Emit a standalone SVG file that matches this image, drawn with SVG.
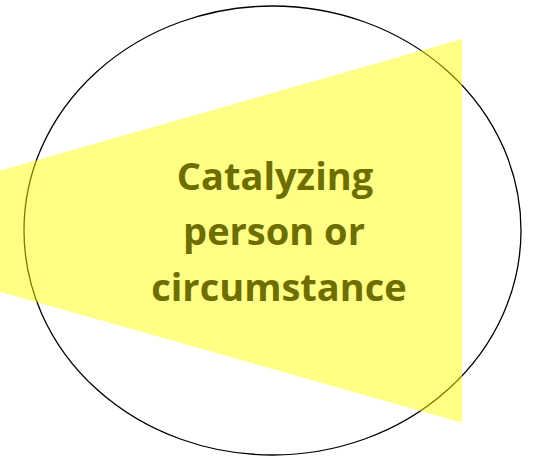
<svg xmlns="http://www.w3.org/2000/svg" width="538" height="456" viewBox="0 0 538 456">
<style>
.outline{fill:none;stroke:#000;stroke-width:1.3}
.beam{fill:#FFFF00;fill-opacity:0.48}
.lbl{font-family:"Open Sans","Liberation Sans",Arial,sans-serif;font-weight:bold;font-size:38px;fill:#6E6E00;text-anchor:middle}
</style>
<rect width="538" height="456" fill="#fff"/>
<g id="circle">
<ellipse class="outline" cx="272.5" cy="230.5" rx="248.5" ry="224.5"/>
</g>
<g id="beam">
<polygon class="beam" points="0,170.7 462,39 462,422.7 0,291.7"/>
</g>
<g id="label">
<text class="lbl" x="275" y="190">Catalyzing</text>
<text class="lbl" x="274" y="245">person or</text>
<text class="lbl" x="279" y="301">circumstance</text>
</g>
</svg>
